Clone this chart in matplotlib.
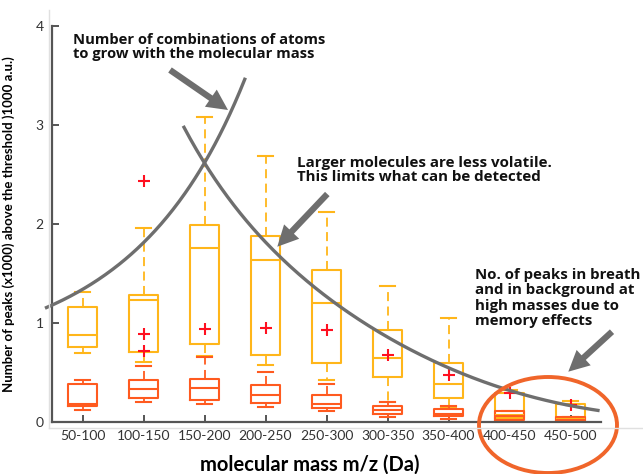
import numpy as np
import matplotlib
matplotlib.use("Agg")
import matplotlib.pyplot as plt
from matplotlib.patches import Ellipse
from matplotlib.lines import Line2D

plt.rcParams['font.family'] = ['Lato', 'DejaVu Sans']

categories = ["50-100", "100-150", "150-200", "200-250", "250-300",
              "300-350", "350-400", "400-450", "450-500"]

# breath (yellow) box statistics, x1000 peaks
breath_whislo = [0.696, 0.608, 0.659, 0.574, 0.42, 0.203, 0.152, 0.02, 0.0]
breath_q1 = [0.757, 0.706, 0.784, 0.67, 0.594, 0.453, 0.244, 0.04, 0.01]
breath_med = [0.878, 1.23, 1.75, 1.63, 1.204, 0.642, 0.385, 0.07, 0.03]
breath_q3 = [1.159, 1.28, 1.983, 1.88, 1.532, 0.929, 0.594, 0.294, 0.183]
breath_whishi = [1.307, 1.96, 3.08, 2.686, 2.115, 1.375, 1.047, 0.321, 0.21]
breath_mean = [np.nan, 0.889, 0.936, 0.943, 0.922, 0.669, 0.47, 0.294, 0.166]
breath_fliers = [[], [2.43], [], [], [], [], [], [], []]

# background (orange) box statistics
bg_whislo = [0.115, 0.203, 0.179, 0.152, 0.108, 0.05, 0.027, 0.0, 0.0]
bg_q1 = [0.159, 0.236, 0.22, 0.193, 0.142, 0.074, 0.061, 0.017, 0.0]
bg_med = [0.176, 0.328, 0.338, 0.274, 0.18, 0.118, 0.078, 0.06, 0.02]
bg_q3 = [0.385, 0.422, 0.43, 0.368, 0.274, 0.159, 0.125, 0.105, 0.048]
bg_whishi = [0.419, 0.567, 0.65, 0.5, 0.385, 0.203, 0.159, 0.11, 0.05]
bg_fliers = [[], [0.716], [], [], [], [], [], [], []]

# guide curves (position, value)
grow_x = [0.41, 1.39, 1.99, 2.485, 3.02, 3.387, 3.66]
grow_y = [1.14, 1.537, 1.807, 2.094, 2.584, 3.14, 3.46]
volat_x = [2.664, 3.016, 4.125, 5.218, 6.20, 7.35, 7.99, 8.66, 9.45]
volat_y = [2.965, 2.584, 1.773, 1.149, 0.794, 0.44, 0.314, 0.22, 0.111]

YELLOW = "#FFB61A"
ORANGE = "#FF5A1F"
GRAY = "#6E6E6E"
W, H = 643, 474


def fp(x, y):
    # figure pixel (top-left origin) -> figure fraction
    return (x / W, 1 - y / H)


def make_stats(lo, q1, med, q3, hi, fliers, mean=None):
    out = []
    for i in range(len(lo)):
        d = dict(whislo=lo[i], q1=q1[i], med=med[i], q3=q3[i], whishi=hi[i],
                 fliers=fliers[i])
        if mean is not None:
            d['mean'] = mean[i]
        out.append(d)
    return out


fig = plt.figure(figsize=(W / 100, H / 100), dpi=100)
ax = fig.add_axes([52 / W, 1 - 421.7 / H, 549 / W, 396 / H])

pos = np.arange(1, len(categories) + 1)
dash = (0, (5, 3))

for stats, col, showm in [
        (make_stats(breath_whislo, breath_q1, breath_med, breath_q3,
                    breath_whishi, breath_fliers, breath_mean), YELLOW, True),
        (make_stats(bg_whislo, bg_q1, bg_med, bg_q3, bg_whishi, bg_fliers),
         ORANGE, False)]:
    ax.bxp(stats, positions=pos, widths=0.49, showmeans=showm,
           boxprops=dict(color=col, lw=1.5),
           medianprops=dict(color=col, lw=1.5),
           whiskerprops=dict(color=col, lw=1.3, linestyle=dash),
           capprops=dict(color=col, lw=1.5),
           capwidths=0.25,
           flierprops=dict(marker='+', markeredgecolor='#FF1020',
                           markersize=8, mew=1.5),
           meanprops=dict(marker='+', markeredgecolor='#FF1020',
                          markersize=8, mew=1.5))

# guide curves
gx = np.linspace(grow_x[0], grow_x[-1], 200)
gc = np.polyfit(grow_x, np.log(grow_y), 2)
ax.plot(gx, np.exp(np.polyval(gc, gx)), color=GRAY, lw=2.4, clip_on=False,
        zorder=5)
vx = np.linspace(volat_x[0], volat_x[-1], 200)
vc = np.polyfit(volat_x, np.log(volat_y), 3)
ax.plot(vx, np.exp(np.polyval(vc, vx)), color=GRAY, lw=2.4, clip_on=False,
        zorder=5)

ax.set_xlim(0.5, 9.5)
ax.set_ylim(0, 4)
ax.set_xticks(pos)
ax.set_xticklabels(categories)
ax.set_yticks([0, 1, 2, 3, 4])
for s in ['top', 'right']:
    ax.spines[s].set_visible(False)
for s in ['left', 'bottom']:
    ax.spines[s].set_color('#555555')
    ax.spines[s].set_linewidth(1.6)
ax.tick_params(direction='in', length=5, width=1.4, color='#555555',
               labelcolor='#333333', labelsize=10, pad=6)
ax.set_ylabel("Number of peaks (x1000) above the threshold )1000 a.u.)",
              fontsize=9.5, fontweight='bold')
ax.yaxis.set_label_coords(-37 / 549, 0.5)
ax.set_xlabel("molecular mass m/z (Da)", fontsize=14.5, fontweight='bold')
ax.xaxis.set_label_coords((310 - 52) / 549, -(465 - 421.7) / 396)
ax.xaxis.label.set_va('center')

# faint outer frame lines
fig.add_artist(Line2D([49 / W, 49 / W], [1 - 428 / H, 1 - 10 / H],
                      color='#E0E0E0', lw=1))
fig.add_artist(Line2D([49 / W, 1], [1 - 428 / H, 1 - 428 / H],
                      color='#E0E0E0', lw=1))

# annotations
txt = dict(fontweight='bold', color='#111111', va='center', ha='left',
           transform=fig.transFigure, family=['Open Sans', 'DejaVu Sans'])
fig.text(*fp(72.7, 47), "Number of combinations of atoms\nto grow with the molecular mass",
         fontsize=10.6, linespacing=1.0, **txt)
fig.text(*fp(296.7, 170), "Larger molecules are less volatile.\nThis limits what can be detected",
         fontsize=10.9, linespacing=1.0, **txt)
fig.text(*fp(475, 298), "No. of peaks in breath\nand in background at\nhigh masses due to\nmemory effects",
         fontsize=10.8, linespacing=1.1, **txt)

arrow = dict(arrowstyle='simple,head_length=1.5,head_width=1.5,tail_width=0.45',
             fc=GRAY, ec='none', shrinkA=0, shrinkB=0, mutation_scale=10)
for tail, head in [((170, 70), (228, 110)),
                   ((327.3, 194), (277.3, 246.7)),
                   ((612, 331.7), (568.3, 371.7))]:
    ax.annotate('', xy=fp(*head), xytext=fp(*tail), xycoords='figure fraction',
                textcoords='figure fraction', arrowprops=arrow,
                annotation_clip=False)

fig.add_artist(Ellipse(fp(548, 425), 138 / W, 96 / H, transform=fig.transFigure,
                       fill=False, ec='#F0652A', lw=2.8))

fig.savefig("out.png", dpi=100)
